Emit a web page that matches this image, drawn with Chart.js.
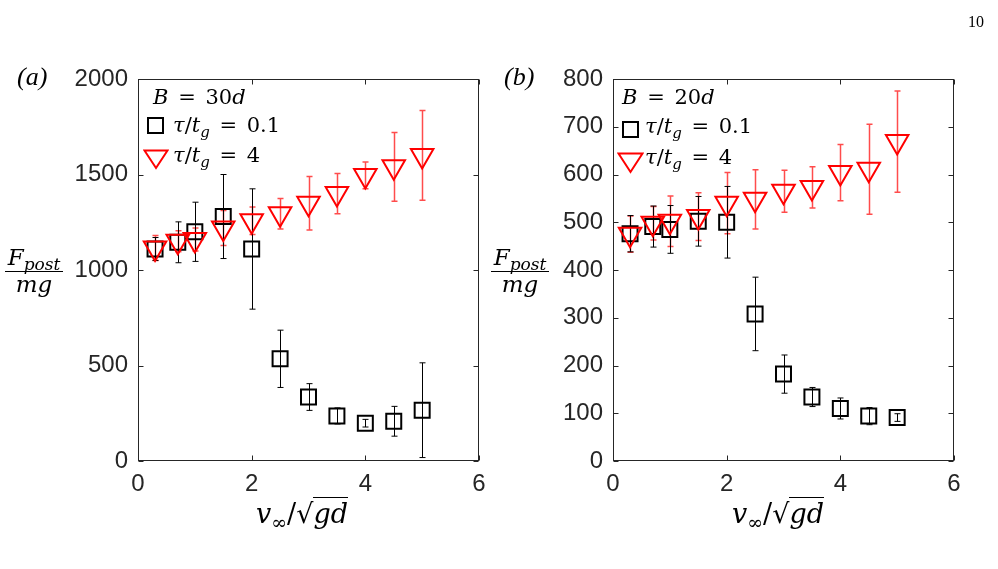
<!DOCTYPE html>
<html>
<head>
<meta charset="utf-8">
<script src="https://cdn.jsdelivr.net/npm/chart.js@4.4.1/dist/chart.umd.min.js"></script>
<style>
body { margin: 0; background: #fff; }
#page { position: relative; width: 998px; height: 569px; overflow: hidden; }
canvas { position: absolute; top: 0; }
.t { position: absolute; font-family: "DejaVu Serif", serif; font-size: 21px; line-height: 1; color: #000; white-space: nowrap; }
.t i { font-style: italic; }
.t sub { font-size: 15px; vertical-align: -5px; line-height: 0; }
.t .eq { margin: 0 3px; }
.lbl { font-family: "Liberation Serif", serif; font-size: 26px; }
.xt { font-size: 27px; }
.xt sub { font-size: 19px; vertical-align: -6px; }
.sq { border-top: 1.5px solid #000; }
.frac { position: absolute; width: 58px; text-align: center; font-family: "DejaVu Serif", serif; font-size: 23px; line-height: 1; white-space: nowrap; }
.frac i { font-style: italic; }
.frac sub { font-size: 17px; vertical-align: -5px; line-height: 0; }
.frac .bar { border-top: 1.5px solid #000; margin: 2px 0 1px 0; }
svg { position: absolute; }
</style>
</head>
<body>
<div id="page">
  <canvas id="chartA" width="499" height="569" style="left:0"></canvas>
  <canvas id="chartB" width="499" height="569" style="left:499px"></canvas>

  <div class="t" style="left:968px;top:14px;font-family:'Liberation Serif';font-size:16px">10</div>
  <div class="t lbl" style="left:17px;top:64px"><i>(a)</i></div>
  <div class="t lbl" style="left:504px;top:64px"><i>(b)</i></div>

  <!-- y axis titles -->
  <div class="frac" style="left:5px;top:246px"><div><i>F</i><sub><i>post</i></sub></div><div class="bar"></div><div><i>mg</i></div></div>
  <div class="frac" style="left:491px;top:246px"><div><i>F</i><sub><i>post</i></sub></div><div class="bar"></div><div><i>mg</i></div></div>

  <!-- x axis titles -->
  <div class="t xt" style="left:256px;top:500px"><i>v</i><sub>∞</sub>/√<span class="sq"><i>gd</i></span></div>
  <div class="t xt" style="left:732px;top:500px"><i>v</i><sub>∞</sub>/√<span class="sq"><i>gd</i></span></div>

  <!-- legends -->
  <div class="t" style="left:153px;top:87px"><i>B</i> <span class="eq">=</span> 30<i>d</i></div>
  <svg style="left:147px;top:117px" width="17" height="17"><rect x="1" y="1" width="15" height="15" fill="none" stroke="#000" stroke-width="2"/></svg>
  <div class="t" style="left:173px;top:115px"><i>τ</i>/<i>t</i><sub><i>g</i></sub> <span class="eq">=</span> 0.1</div>
  <svg style="left:143px;top:149px" width="26" height="21"><polygon points="1.5,1.5 24.5,1.5 13,19" fill="none" stroke="#ff0000" stroke-width="2"/></svg>
  <div class="t" style="left:173px;top:145px"><i>τ</i>/<i>t</i><sub><i>g</i></sub> <span class="eq">=</span> 4</div>

  <div class="t" style="left:622px;top:87px"><i>B</i> <span class="eq">=</span> 20<i>d</i></div>
  <svg style="left:622px;top:121px" width="17" height="17"><rect x="1" y="1" width="15" height="15" fill="none" stroke="#000" stroke-width="2"/></svg>
  <div class="t" style="left:645px;top:116px"><i>τ</i>/<i>t</i><sub><i>g</i></sub> <span class="eq">=</span> 0.1</div>
  <svg style="left:617px;top:152px" width="27" height="22"><polygon points="1.5,1.5 25.5,1.5 13.5,20" fill="none" stroke="#ff0000" stroke-width="2"/></svg>
  <div class="t" style="left:645px;top:147px"><i>τ</i>/<i>t</i><sub><i>g</i></sub> <span class="eq">=</span> 4</div>
</div>

<script>
// velocity v_inf / sqrt(gd)
const velocidades = [0.3, 0.7, 1, 1.5, 2, 2.5, 3, 3.5, 4, 4.5, 5];

// (a) B = 30d
const a_corto = [1110, 1145, 1200, 1280, 1110, 535, 335, 236, 198, 208, 266];      // tau/tg = 0.1
const a_cortoErr = [60, 107, 155, 220, 315, 150, 70, 42, 20, 78, 248];
const a_largo = [1115, 1150, 1160, 1220, 1258, 1295, 1350, 1400, 1495, 1540, 1600]; // tau/tg = 4
const a_largoErr = [65, 55, 60, 92, 72, 80, 140, 105, 70, 180, 235];

// (b) B = 20d
const b_corto = [476, 491, 485, 502, 500, 308, 182, 134, 110, 94, 91];
const b_cortoErr = [38, 43, 50, 52, 75, 77, 40, 20, 22, 18, 8];
const b_largo = [475, 498, 502, 512, 540, 548, 565, 573, 604, 611, 669];
const b_largoErr = [38, 35, 53, 50, 64, 62, 44, 43, 59, 94, 106];

const xTicks = { min: 0, max: 6, step: 2 };
const yTicksA = { min: 0, max: 2000, step: 500 };
const yTicksB = { min: 0, max: 800, step: 100 };

// error bars, drawn under the markers
const barrasError = {
    id: 'barrasError',
    beforeDatasetsDraw(chart) {
        const ctx = chart.ctx;
        const xs = chart.scales.x, ys = chart.scales.y;
        chart.data.datasets.forEach(ds => {
            ctx.save();
            ctx.strokeStyle = ds.errColor;
            ctx.lineWidth = ds.errWidth;
            ds.data.forEach((p, i) => {
                const e = ds.err[i];
                const px = Math.round(xs.getPixelForValue(p.x)) + 0.5;
                const y1 = ys.getPixelForValue(p.y - e);
                const y2 = ys.getPixelForValue(p.y + e);
                ctx.beginPath();
                ctx.moveTo(px, y1); ctx.lineTo(px, y2);
                ctx.moveTo(px - 3, y1); ctx.lineTo(px + 3, y1);
                ctx.moveTo(px - 3, y2); ctx.lineTo(px + 3, y2);
                ctx.stroke();
            });
            ctx.restore();
        });
    }
};

// box around the axes with inward ticks on all sides
const cajaEjes = {
    id: 'cajaEjes',
    afterDraw(chart) {
        const ctx = chart.ctx;
        const a = chart.chartArea;
        const xs = chart.scales.x, ys = chart.scales.y;
        const L = a.left + 0.5, R = a.right - 0.5, T = a.top + 0.5, B = a.bottom - 0.5;
        ctx.save();
        ctx.strokeStyle = '#262626';
        ctx.lineWidth = 1;
        ctx.strokeRect(L, T, R - L, B - T);
        ctx.beginPath();
        xs.ticks.forEach(t => {
            const px = Math.round(xs.getPixelForValue(t.value)) + 0.5;
            ctx.moveTo(px, B); ctx.lineTo(px, B - 5);
            ctx.moveTo(px, T); ctx.lineTo(px, T + 5);
        });
        ys.ticks.forEach(t => {
            const py = Math.round(ys.getPixelForValue(t.value)) + 0.5;
            ctx.moveTo(L, py); ctx.lineTo(L + 5, py);
            ctx.moveTo(R, py); ctx.lineTo(R - 5, py);
        });
        ctx.stroke();
        ctx.restore();
    }
};

function crearPanel(id, corto, cortoErr, largo, largoErr, yT, anchoY, padDer) {
    const fuente = { family: 'Liberation Sans, Arial, sans-serif', size: 24 };
    return new Chart(document.getElementById(id), {
        type: 'scatter',
        data: {
            datasets: [{
                label: 'tau/tg = 4',
                data: velocidades.map((v, i) => ({ x: v, y: largo[i] })),
                err: largoErr,
                errColor: 'rgba(255,0,0,0.7)',
                errWidth: 1.5,
                pointStyle: 'triangle',
                rotation: 180,
                pointRadius: 13,
                borderColor: '#ff0000',
                backgroundColor: 'rgba(0,0,0,0)',
                borderWidth: 2,
                order: 1
            }, {
                label: 'tau/tg = 0.1',
                data: velocidades.map((v, i) => ({ x: v, y: corto[i] })),
                err: cortoErr,
                errColor: '#000',
                errWidth: 1,
                pointStyle: 'rect',
                pointRadius: 10.6,
                borderColor: '#000',
                backgroundColor: 'rgba(0,0,0,0)',
                borderWidth: 2,
                order: 2
            }]
        },
        options: {
            responsive: false,
            animation: false,
            events: [],
            layout: { padding: { top: 79, right: padDer, bottom: 68, left: 0 } },
            plugins: { legend: { display: false }, tooltip: { enabled: false } },
            scales: {
                x: {
                    type: 'linear', min: xTicks.min, max: xTicks.max,
                    ticks: { stepSize: xTicks.step, font: fuente, color: '#262626', padding: 9, maxRotation: 0, callback: v => String(v) },
                    grid: { display: false, drawTicks: false },
                    border: { display: false },
                    afterFit: s => { s.height = 40; }
                },
                y: {
                    type: 'linear', min: yT.min, max: yT.max,
                    ticks: { stepSize: yT.step, font: fuente, color: '#262626', padding: 10, callback: v => String(v) },
                    grid: { display: false, drawTicks: false },
                    border: { display: false },
                    afterFit: s => { s.width = anchoY; }
                }
            }
        },
        plugins: [barrasError, cajaEjes]
    });
}

crearPanel('chartA', a_corto, a_cortoErr, a_largo, a_largoErr, yTicksA, 138, 20);
crearPanel('chartB', b_corto, b_cortoErr, b_largo, b_largoErr, yTicksB, 114, 44);
</script>
</body>
</html>
